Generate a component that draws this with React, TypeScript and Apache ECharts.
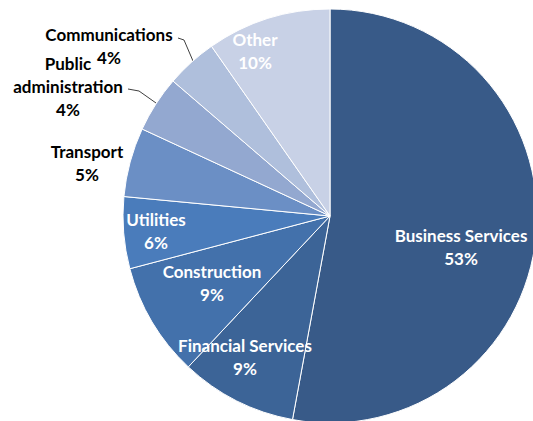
import React, { useEffect, useRef } from "react";
import * as echarts from "echarts";

const categories = [
  "Business Services",
  "Financial Services",
  "Construction",
  "Utilities",
  "Transport",
  "Public administration",
  "Communications",
  "Other",
];
const values = [52.9, 9.1, 8.9, 5.6, 5.4, 4.4, 4.0, 9.7];
const percentLabels = ["53%", "9%", "9%", "6%", "5%", "4%", "4%", "10%"];
const labelTexts = [
  "Business Services",
  "Financial Services",
  "Construction",
  "Utilities",
  "Transport",
  "Public\nadministration",
  "Communications",
  "Other",
];
const colors = [
  "#385a88",
  "#3c6497",
  "#4371ab",
  "#4a7cbb",
  "#6b8fc5",
  "#93a8d0",
  "#afbfdc",
  "#c8d1e6",
];
const labelColors = ["#fff", "#fff", "#fff", "#fff", "#000", "#000", "#000", "#fff"];
const labelPos: [number, number][] = [
  [461, 247],
  [245, 357],
  [212, 283],
  [156, 231],
  [87, 163],
  [68, 86],
  [109, 46],
  [255, 51],
];
const leaderLines: Record<number, number[][]> = {
  5: [
    [156, 103],
    [139, 91],
    [128, 89],
  ],
  6: [
    [193, 61],
    [184, 40],
    [178, 38],
  ],
};

export default function App() {
  const ref = useRef<HTMLDivElement>(null);
  useEffect(() => {
    if (!ref.current) return;
    const chart = echarts.init(ref.current, null, { renderer: "svg" });
    chart.setOption({
      animation: false,
      backgroundColor: "#fff",
      series: [
        {
          type: "pie",
          center: [330, 216],
          radius: 207,
          startAngle: 90,
          clockwise: true,
          avoidLabelOverlap: false,
          itemStyle: { borderColor: "#fff", borderWidth: 1 },
          label: {
            show: true,
            position: "outside",
            fontFamily: "Lato",
            fontWeight: "bold",
            fontSize: 17,
            lineHeight: 23,
            align: "center",
          },
          labelLine: { show: false, lineStyle: { color: "#404040", width: 1 } },
          labelLayout: (params: any) => {
            const i = params.dataIndex;
            const p = labelPos[i];
            const res: any = { x: p[0], y: p[1], align: "center", verticalAlign: "middle" };
            if (leaderLines[i]) res.labelLinePoints = leaderLines[i];
            return res;
          },
          data: categories.map((name, i) => ({
            name,
            value: values[i],
            itemStyle: { color: colors[i] },
            label: {
              color: labelColors[i],
              formatter: labelTexts[i] + "\n" + percentLabels[i],
            },
            labelLine: { show: !!leaderLines[i] },
          })),
        },
      ],
    });
    return () => chart.dispose();
  }, []);
  return (
    <div
      ref={ref}
      style={{ position: "fixed", left: 0, top: 0, width: 533, height: 421 }}
    />
  );
}
